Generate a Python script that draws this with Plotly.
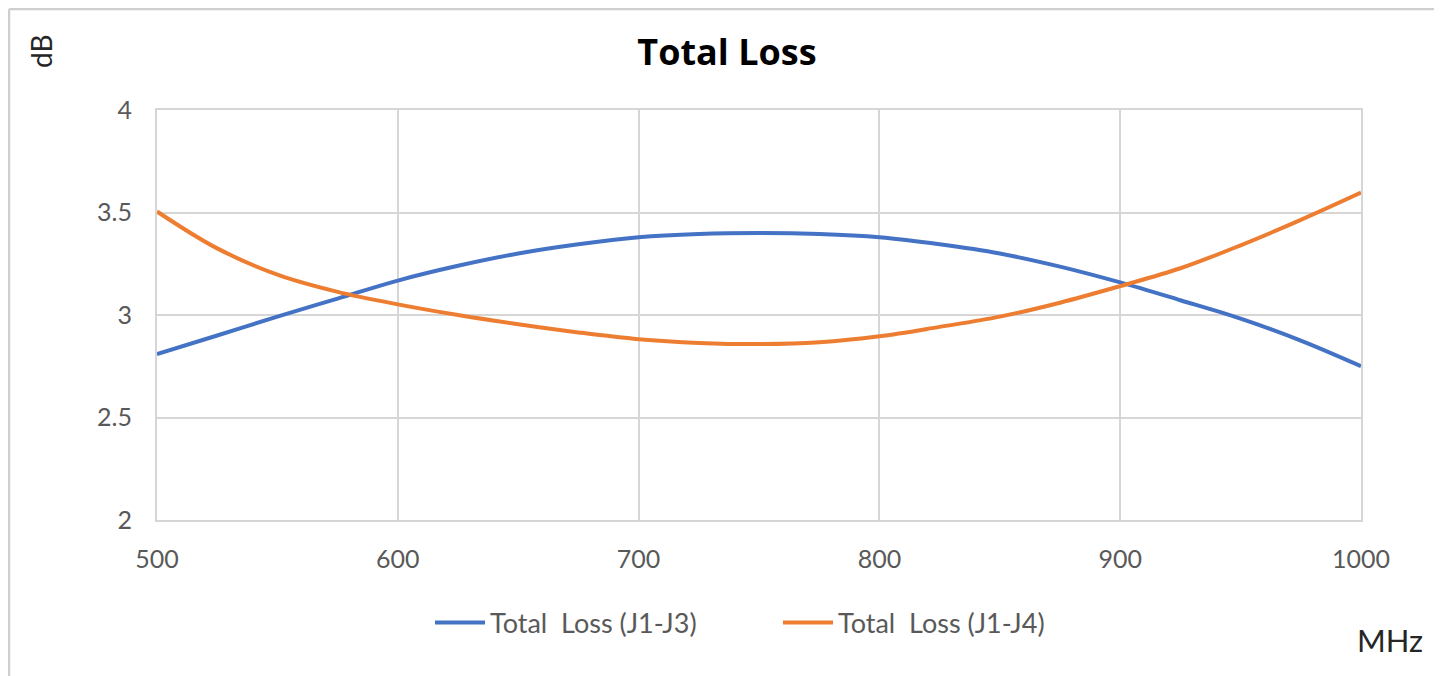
import plotly.graph_objects as go

# Data
freq_mhz = [500, 525, 550, 575, 600, 625, 650, 675, 700, 725, 750,
            775, 800, 825, 850, 875, 900, 925, 950, 975, 1000]
loss_j1_j3 = [2.809, 2.900, 2.992, 3.080, 3.168, 3.240, 3.300, 3.345, 3.379, 3.395, 3.400,
              3.395, 3.379, 3.345, 3.300, 3.236, 3.159, 3.072, 2.982, 2.875, 2.750]
loss_j1_j4 = [3.505, 3.325, 3.197, 3.113, 3.052, 3.000, 2.955, 2.915, 2.882, 2.864, 2.858,
              2.867, 2.896, 2.942, 2.992, 3.060, 3.141, 3.228, 3.340, 3.464, 3.597]
series_names = ["Total\u00a0 Loss (J1-J3)", "Total\u00a0 Loss (J1-J4)"]
series_colors = ["#4472C4", "#ED7D31"]
x_ticks = [500, 600, 700, 800, 900, 1000]
y_ticks = [2, 2.5, 3, 3.5, 4]
y_tick_text = ["2", "2.5", "3", "3.5", "4"]

fig = go.Figure()
for name, ys, col in zip(series_names, [loss_j1_j3, loss_j1_j4], series_colors):
    fig.add_trace(go.Scatter(
        x=freq_mhz, y=ys, mode="lines", name=name,
        line=dict(color=col, width=4, shape="spline", smoothing=1.0),
    ))

W, H = 1442, 676
OFF = 8  # page offset of the figure in the browser
L, R, T, B = 157 - OFF, 1442 - 1361 + OFF, 110 - OFF, 676 - 520 + OFF
pw, ph = W - L - R, H - T - B

def px_x(p):
    return (p - OFF - L) / pw

def px_y(p):
    return (H - B - (p - OFF)) / ph

grid_col = "#d6d6d6"
tick_font = dict(family="Lato, 'Open Sans', sans-serif", size=25, color="#595959")

fig.update_layout(
    width=W, height=H,
    margin=dict(l=L, r=R, t=T, b=B),
    paper_bgcolor="white", plot_bgcolor="white",
    title=dict(text="<b>Total Loss</b>", x=(727 - OFF) / W, xref="container", xanchor="center",
               y=1 - (52 - OFF) / H, yref="container", yanchor="middle",
               font=dict(family="'Open Sans', sans-serif", size=36, color="black")),
    xaxis=dict(range=[500, 1000], tickvals=x_ticks, ticktext=[str(v) for v in x_ticks],
               showgrid=True, gridcolor=grid_col, gridwidth=2,
               showline=True, linecolor=grid_col, linewidth=2, mirror=True,
               zeroline=False, ticks="", tickfont=tick_font, ticklabelstandoff=16),
    yaxis=dict(range=[2, 4], tickvals=y_ticks, ticktext=y_tick_text,
               showgrid=True, gridcolor=grid_col, gridwidth=2,
               showline=True, linecolor=grid_col, linewidth=2, mirror=True,
               zeroline=False, ticks="", tickfont=tick_font, ticklabelstandoff=18),
    showlegend=True,
    legend=dict(orientation="h", x=px_x(778), xanchor="center", y=px_y(623), yanchor="middle",
                font=dict(family="Lato, 'Open Sans', sans-serif", size=27, color="#595959"),
                bgcolor="rgba(0,0,0,0)", itemwidth=50,
                entrywidth=283, entrywidthmode="pixels"),
    annotations=[
        dict(text="dB", x=px_x(41), y=px_y(51), xref="paper", yref="paper",
             showarrow=False, textangle=-90, xanchor="center", yanchor="middle",
             font=dict(family="Lato, 'Open Sans', sans-serif", size=28, color="#262626")),
        dict(text="MHz", x=px_x(1390), y=px_y(640), xref="paper", yref="paper",
             showarrow=False, xanchor="center", yanchor="middle",
             font=dict(family="Lato, 'Open Sans', sans-serif", size=31, color="#262626")),
    ],
    shapes=[
        dict(type="line", xref="paper", yref="paper", x0=px_x(9), x1=px_x(1470),
             y0=px_y(9), y1=px_y(9), line=dict(color="#cfcfcf", width=2.5)),
        dict(type="line", xref="paper", yref="paper", x0=px_x(9), x1=px_x(9),
             y0=px_y(9), y1=px_y(720), line=dict(color="#cfcfcf", width=2.5)),
    ],
)

fig.write_html("out.html")
